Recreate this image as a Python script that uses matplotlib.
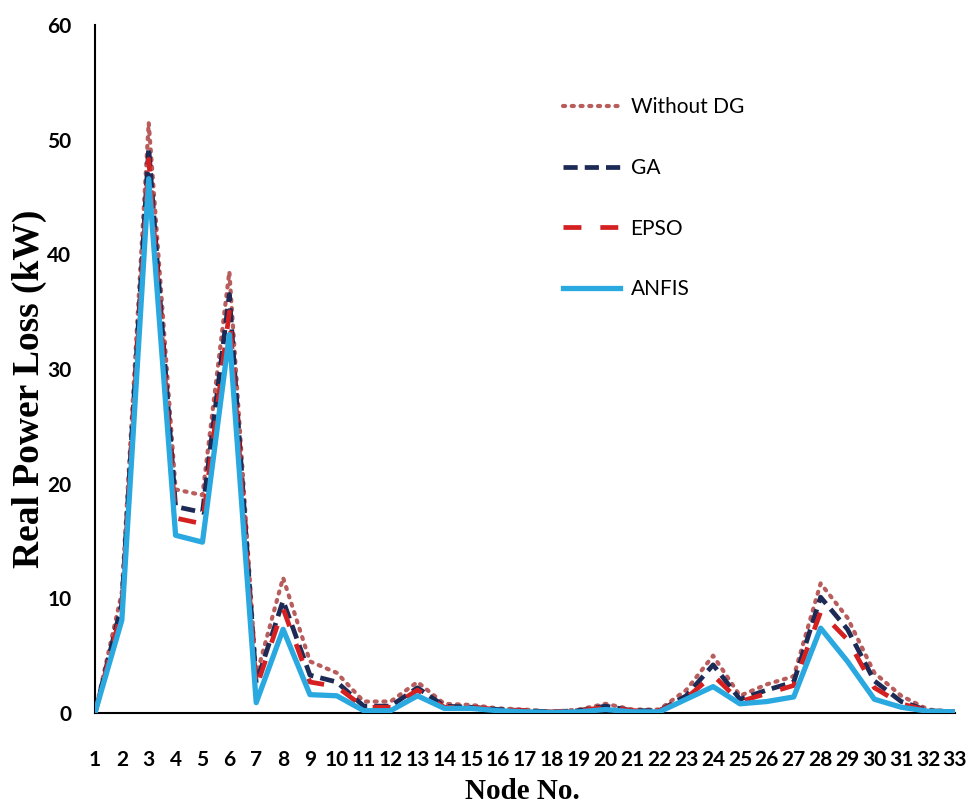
import matplotlib
matplotlib.use("Agg")
import matplotlib.pyplot as plt

nodes = list(range(1, 34))
without_dg = [0, 10.5, 51.5, 19.5, 19.0, 38.5, 3.2, 11.8, 4.5, 3.5, 1.0, 1.0, 2.7, 0.8, 0.7, 0.4, 0.3, 0.1, 0.3, 0.8, 0.3, 0.3, 2.0, 5.0, 1.5, 2.5, 3.2, 11.3, 8.3, 3.5, 1.5, 0.3, 0.1]
ga = [0, 9.5, 49.3, 18.0, 17.5, 36.5, 2.6, 9.8, 3.3, 2.7, 0.6, 0.6, 2.2, 0.6, 0.5, 0.3, 0.2, 0.1, 0.2, 0.6, 0.2, 0.2, 1.5, 4.2, 1.2, 2.0, 2.7, 10.1, 7.3, 2.8, 1.0, 0.2, 0.1]
epso = [0, 9.0, 48.3, 17.0, 16.5, 35.0, 2.2, 9.1, 2.7, 2.3, 0.5, 0.5, 2.0, 0.5, 0.5, 0.3, 0.2, 0.1, 0.2, 0.5, 0.2, 0.2, 1.3, 3.3, 1.0, 1.7, 2.4, 8.8, 6.4, 2.2, 0.8, 0.2, 0.1]
anfis = [0, 8.1, 46.6, 15.5, 14.9, 33.0, 0.9, 7.3, 1.6, 1.5, 0.2, 0.2, 1.5, 0.4, 0.4, 0.2, 0.1, 0.05, 0.1, 0.3, 0.1, 0.1, 1.2, 2.3, 0.8, 1.0, 1.4, 7.4, 4.5, 1.2, 0.5, 0.15, 0.1]
labels = ["Without DG", "GA", "EPSO", "ANFIS"]
yticks = [0, 10, 20, 30, 40, 50, 60]

fig = plt.figure(figsize=(9.66, 8.05), dpi=100)
ax = fig.add_axes([0.0983, 0.1143, 0.8903, 0.8546])

ax.plot(nodes, without_dg, color="#b85c5c", lw=3.0, linestyle=(0, (0.5, 1.6)),
        dash_capstyle="round", label=labels[0], zorder=2)
ax.plot(nodes, ga, color="#1c2a55", lw=3.4, linestyle=(0, (3.0, 1.5)), label=labels[1], zorder=3)
ax.plot(nodes, epso, color="#d42020", lw=3.4, linestyle=(0, (3.8, 4.0)), label=labels[2], zorder=4)
ax.plot(nodes, anfis, color="#2aa8e0", lw=3.8, linestyle="-", label=labels[3], zorder=5)

ax.set_xlim(1, 33)
ax.set_ylim(0, 60)
ax.set_xticks(nodes)
ax.set_xticklabels([str(n) for n in nodes], fontfamily="Lato", fontweight="bold", fontsize=15)
ax.set_yticks(yticks)
ax.set_yticklabels([str(v) for v in yticks], fontfamily="Lato", fontweight="bold", fontsize=15)
ax.tick_params(axis="x", length=0, pad=27)
ax.tick_params(axis="y", length=0, pad=17)
for s in ["top", "right"]:
    ax.spines[s].set_visible(False)
for s in ["left", "bottom"]:
    ax.spines[s].set_linewidth(1.5)
    ax.spines[s].set_color("black")

ax.set_ylabel("Real Power Loss (kW)", fontfamily="Liberation Serif", fontweight="bold", fontsize=27)
ax.yaxis.set_label_coords(-0.056, 0.471)
ax.set_xlabel("Node No.", fontfamily="Liberation Serif", fontweight="bold", fontsize=21)
ax.xaxis.set_label_coords(0.4965, -0.095)

leg = ax.legend(loc="upper left", bbox_to_anchor=(0.544, 0.895), frameon=False,
                prop={"family": "Lato", "size": 15}, handlelength=2.75,
                labelspacing=1.95, handletextpad=0.5, borderpad=0, borderaxespad=0)

fig.savefig("out.png", dpi=100)
